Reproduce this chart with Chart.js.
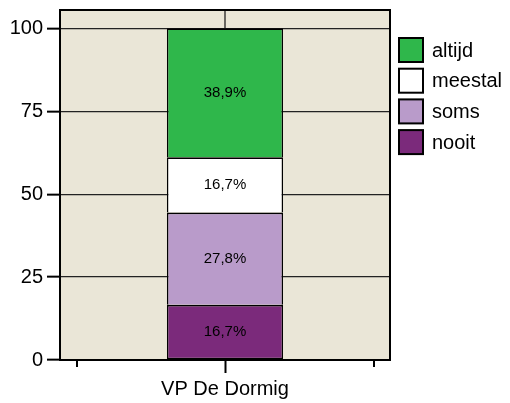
<!DOCTYPE html>
<html>
<head>
<meta charset="utf-8">
<script src="https://cdn.jsdelivr.net/npm/chart.js@4"></script>
<style>
  body { margin: 0; background: #ffffff; }
</style>
</head>
<body>
<canvas id="graph1" width="510" height="403"></canvas>
<script>
var categories = ['VP De Dormig'];
var nooit = [16.7];
var soms = [27.8];
var meestal = [16.7];
var altijd = [38.9];
var yTicks = [0, 25, 50, 75, 100];

var FONT = '"Liberation Sans", Arial, Helvetica, sans-serif';

// plot background + frame + small outer x ticks
var frame = {
    id: 'frame',
    beforeDraw: function (chart) {
        var a = chart.chartArea, ctx = chart.ctx;
        ctx.save();
        ctx.fillStyle = '#eae6d7';
        ctx.fillRect(a.left, a.top, a.right - a.left, a.bottom - a.top);
        ctx.restore();
    },
    beforeDatasetsDraw: function (chart) {
        // category gridline, only visible above the bar
        var a = chart.chartArea, ctx = chart.ctx;
        var x = chart.scales.x.getPixelForValue(0);
        ctx.save();
        ctx.strokeStyle = '#222';
        ctx.lineWidth = 1.3;
        ctx.beginPath();
        ctx.moveTo(x, a.top);
        ctx.lineTo(x, chart.scales.y.getPixelForValue(100));
        ctx.stroke();
        ctx.restore();
    },
    afterDraw: function (chart) {
        var a = chart.chartArea, ctx = chart.ctx;
        ctx.save();
        ctx.strokeStyle = '#000';
        ctx.lineWidth = 2;
        ctx.strokeRect(a.left, a.top, a.right - a.left, a.bottom - a.top);
        ctx.beginPath();
        ctx.moveTo(a.left + 17, a.bottom);
        ctx.lineTo(a.left + 17, a.bottom + 7);
        ctx.moveTo(a.right - 16, a.bottom);
        ctx.lineTo(a.right - 16, a.bottom + 7);
        ctx.stroke();
        ctx.restore();
    }
};

// values written inside the segments
var segLabels = {
    id: 'segLabels',
    afterDatasetsDraw: function (chart) {
        var ctx = chart.ctx;
        ctx.save();
        ctx.font = '15px ' + FONT;
        ctx.fillStyle = '#000';
        ctx.textAlign = 'center';
        ctx.textBaseline = 'middle';
        chart.data.datasets.forEach(function (ds, i) {
            chart.getDatasetMeta(i).data.forEach(function (bar, j) {
                var txt = ds.data[j].toFixed(1).replace('.', ',') + '%';
                ctx.fillText(txt, bar.x, (bar.y + bar.base) / 2);
            });
        });
        ctx.restore();
    }
};

// legend on the right, top item = top of stack
var sideLegend = {
    id: 'sideLegend',
    afterDraw: function (chart) {
        var ctx = chart.ctx;
        var sets = chart.data.datasets.slice().reverse();
        ctx.save();
        ctx.font = '20px ' + FONT;
        ctx.textBaseline = 'middle';
        sets.forEach(function (ds, i) {
            var y = 38 + i * 30.7;
            ctx.fillStyle = ds.backgroundColor;
            ctx.fillRect(399, y, 24, 24);
            ctx.strokeStyle = '#000';
            ctx.lineWidth = 2;
            ctx.strokeRect(399, y, 24, 24);
            ctx.fillStyle = '#000';
            ctx.fillText(ds.label, 432, y + 13);
        });
        ctx.restore();
    }
};

function makeSet(label, data, color, bottom) {
    return {
        label: label,
        data: data,
        backgroundColor: color,
        borderColor: '#000',
        borderWidth: { top: 1.8, bottom: bottom, left: 1.5, right: 1.5 },
        borderSkipped: false,
        barPercentage: 0.352,
        categoryPercentage: 1
    };
}

var context = document.getElementById('graph1').getContext('2d');
var chart = new Chart(context, {
    type: 'bar',
    data: {
        labels: categories,
        datasets: [
            makeSet('nooit', nooit, '#7b2a7b', 1.5),
            makeSet('soms', soms, '#b99bca', 0),
            makeSet('meestal', meestal, '#ffffff', 0),
            makeSet('altijd', altijd, '#2fb74b', 0)
        ]
    },
    options: {
        responsive: false,
        animation: false,
        layout: { padding: { top: 10, right: 120, left: 0, bottom: 0 } },
        plugins: {
            legend: { display: false },
            tooltip: { enabled: false }
        },
        scales: {
            x: {
                stacked: true,
                afterFit: function (s) {
                    s.height = 43;
                    s.paddingLeft = 0;
                    s.paddingRight = 0;
                },
                grid: {
                    offset: false,
                    drawOnChartArea: false,
                    tickLength: 13,
                    tickColor: '#000',
                    tickWidth: 2
                },
                border: { color: '#000', width: 2 },
                ticks: {
                    color: '#000',
                    padding: 4,
                    font: { family: FONT, size: 20 }
                }
            },
            y: {
                stacked: true,
                min: 0,
                max: 105.6,
                afterFit: function (s) {
                    s.width = 60;
                    s.paddingTop = 0;
                    s.paddingBottom = 0;
                },
                afterBuildTicks: function (s) {
                    s.ticks = yTicks.map(function (v) { return { value: v }; });
                },
                grid: {
                    color: '#222',
                    lineWidth: 1.3,
                    tickLength: 13,
                    tickColor: '#000',
                    tickWidth: 2
                },
                border: { color: '#000', width: 2 },
                ticks: {
                    color: '#000',
                    padding: 4,
                    font: { family: FONT, size: 20 }
                }
            }
        }
    },
    plugins: [frame, segLabels, sideLegend]
});
</script>
</body>
</html>
